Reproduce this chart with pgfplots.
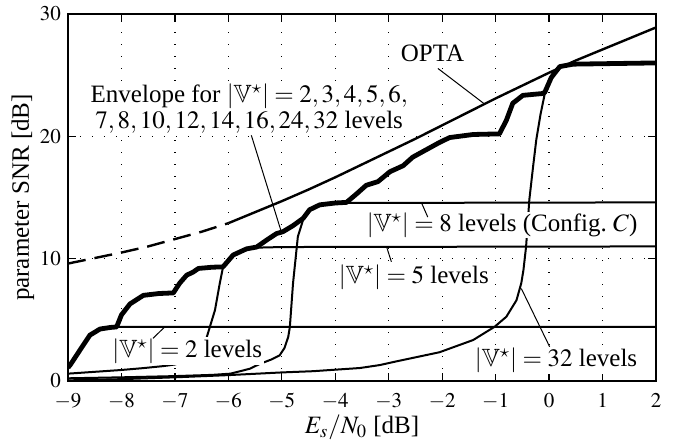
\documentclass[border=0pt]{standalone}
\usepackage{mathptmx}
\usepackage{amssymb}
\usepackage{fontspec}
\setmainfont{Liberation Serif}
\usepackage{pgfplots}
\pgfplotsset{compat=1.18}
\newcommand{\VV}{|\mathbb{V}^{\star}|}
\tikzset{lbl/.style={fill=white, inner sep=0.8pt, font=\fontsize{12.5}{13.3}\selectfont}}
\begin{document}
\begin{tikzpicture}
\useasboundingbox (-34pt,-30.5pt) rectangle (309pt,190.5pt);
\begin{axis}[
  at={(0,0)}, anchor=south west,
  width=294pt, height=183.5pt, scale only axis=true,
  xmin=-9, xmax=2, ymin=0, ymax=30,
  xtick={-9,-8,...,2}, ytick={0,10,20,30},
  tick align=inside,
  major tick length=4pt,
  axis line style={line width=0.8pt},
  tick style={line width=0.6pt, black},
  grid=major,
  major grid style={black, line width=0.6pt, dash pattern=on 0.6pt off 5.4pt},
  ticklabel style={font=\fontsize{10.5}{12}\selectfont},
  xticklabel style={yshift=-2.5pt},
  xlabel={$E_s/N_0$ [dB]},
  ylabel={parameter SNR [dB]},
  label style={font=\fontsize{12.5}{14}\selectfont},
  xlabel style={yshift=4pt},
  ylabel style={yshift=-4pt},
]
% OPTA dashed part
\addplot[black, line width=1.2pt, dash pattern=on 9pt off 4.5pt] coordinates {
(-9,9.6) (-8.5,10.05) (-8,10.5) (-7.5,11.0) (-7,11.6) (-6.5,12.2) (-6,12.9)};
% OPTA solid part
\addplot[black, line width=1.2pt] coordinates {
(-6,12.9) (-5.5,13.8) (-5,14.7) (-4.5,15.65) (-4,16.65) (-3.5,17.7) (-3,18.75) (-2.5,19.8) (-2,20.9) (-1.5,22.0) (-1,23.1) (-0.5,24.15) (0,25.2) (0.5,26.2) (1,27.1) (1.5,28.0) (2,28.9)};
% 2 levels
\addplot[black, line width=1pt] coordinates {
(-9,1.1) (-8.96,1.3) (-8.78,2.5) (-8.59,3.75) (-8.40,4.25) (-8.2,4.38) (-8.09,4.42) (-7,4.42) (2,4.42)};
% 5 levels
\addplot[black, line width=1pt] coordinates {
(-9,0.6) (-8.5,0.75) (-8,0.9) (-7.6,1.05) (-7.21,1.22) (-7,1.35) (-6.8,1.6) (-6.6,2.1) (-6.5,2.6) (-6.41,3.5) (-6.25,5.8) (-6.16,8.0) (-6.1,9.3) (-6.0,9.9) (-5.91,10.3) (-5.66,10.8) (-5.47,10.9) (-5,10.95) (2,11.0)};
% 8 levels
\addplot[black, line width=1pt] coordinates {
(-9,0.22) (-8,0.3) (-7,0.4) (-6.3,0.5) (-5.96,0.6) (-5.6,1.0) (-5.41,1.4) (-5.2,1.75) (-5.04,2.1) (-4.95,2.7) (-4.88,3.6) (-4.85,4.4) (-4.79,8.0) (-4.70,11.8) (-4.6,13.2) (-4.54,13.7) (-4.4,14.2) (-4.29,14.45) (-4.0,14.55) (2,14.6)};
% 32 levels
\addplot[black, line width=1pt] coordinates {
(-9,0.05) (-8,0.15) (-7,0.3) (-6,0.48) (-5,0.7) (-4.42,0.8) (-3.54,1.06) (-3.17,1.3) (-2.86,1.6) (-2.05,2.35) (-1.42,3.35) (-1.02,4.43) (-0.80,5.25) (-0.61,6.6) (-0.52,8.0) (-0.48,9.06) (-0.43,11) (-0.37,14.8) (-0.30,17.5) (-0.24,19.7) (-0.16,21.8) (-0.08,23.5) (0.07,25.2) (0.2,25.7) (0.45,25.9) (2,26.0)};
% envelope
\addplot[black, line width=2.4pt, line join=round] coordinates {
(-9,1.1) (-8.96,1.3) (-8.78,2.5) (-8.59,3.75) (-8.40,4.25) (-8.2,4.38) (-8.09,4.42) (-8.0,5.4) (-7.84,6.3) (-7.59,7.0) (-7.3,7.15) (-7.03,7.2) (-6.91,8.0) (-6.78,8.65) (-6.66,8.9) (-6.56,9.2) (-6.3,9.3) (-6.10,9.33) (-5.91,10.3) (-5.66,10.8) (-5.47,10.95) (-5.29,11.5) (-5.10,12.05) (-4.98,12.2) (-4.79,12.7) (-4.60,13.3) (-4.48,14.0) (-4.29,14.4) (-4.0,14.55) (-3.79,14.6) (-3.60,15.3) (-3.42,16.0) (-3.20,16.3) (-2.98,17.1) (-2.73,17.6) (-2.55,18.3) (-2.30,18.9) (-2.05,19.5) (-1.86,19.9) (-1.42,20.15) (-0.93,20.2) (-0.80,21.3) (-0.68,22.7) (-0.49,23.35) (-0.12,23.5) (-0.08,23.6) (0.04,24.8) (0.20,25.7) (0.45,25.9) (2.0,26.0)};
% labels
\node[lbl, align=center] at (axis cs:-5.61,22.25) {Envelope for $\VV=2,3,4,5,6,$\\$7,8,10,12,14,16,24,32$ levels};
\node[lbl] at (axis cs:-2.18,26.8) {OPTA};
\node[lbl, inner sep=0.3pt] at (axis cs:-0.88,12.75) {$\VV=8$ levels (Config.~$C$)};
\node[lbl] at (axis cs:-2.53,8.5) {$\VV=5$ levels};
\node[lbl] at (axis cs:-6.77,2.45) {$\VV=2$ levels};
\node[lbl] at (axis cs:0.13,1.7) {$\VV=32$ levels};
% pointers
\draw[line width=0.5pt] (axis cs:-2.08,25.55) -- (axis cs:-1.21,22.65);
\draw[line width=0.5pt] (axis cs:-5.57,20.08) -- (axis cs:-5.01,12.2);
\draw[line width=0.5pt] (axis cs:-2.27,13.4) -- (axis cs:-2.39,14.6);
\draw[line width=0.5pt] (axis cs:-2.95,9.74) -- (axis cs:-3.04,10.97);
\draw[line width=0.5pt] (axis cs:-7.41,3.49) -- (axis cs:-7.19,4.42);
\draw[line width=0.5pt] (axis cs:0.01,2.8) -- (axis cs:-0.52,7.56);
\end{axis}
\end{tikzpicture}
\end{document}
